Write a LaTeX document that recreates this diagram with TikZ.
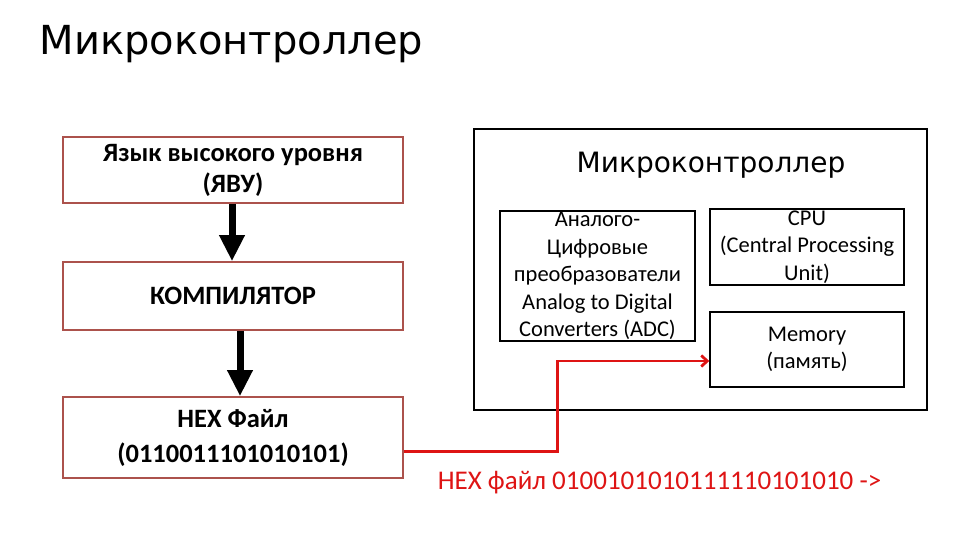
\documentclass[tikz,border=0pt]{standalone}
\usepackage{fontspec}
\setmainfont{Carlito}
\newfontfamily\titlefont{DejaVu Sans}
\usepackage{xcolor}
\usepackage{tikz}
\usetikzlibrary{arrows.meta, positioning}
\definecolor{boxred}{RGB}{172,82,76}
\definecolor{hexred}{RGB}{222,20,20}

\begin{document}
\begin{tikzpicture}[x=1pt, y=-1pt,
  flowbox/.style={rectangle, draw=boxred, line width=1.6pt, minimum width=340pt,
                  align=center, inner sep=0pt, font=\fontsize{26.5}{31}\selectfont\bfseries},
  partbox/.style={rectangle, draw=black, line width=1.4pt, minimum width=194pt,
                  align=center, inner sep=0pt, font=\fontsize{22.5}{27.5}\selectfont},
  flowarrow/.style={-{Triangle[length=26pt,width=24pt]}, line width=7pt},
  hexarrow/.style={-{Straight Barb[length=6pt,width=11pt]}, hexred, line width=2.8pt}
]
\useasboundingbox (0,0) rectangle (960,540);
\node[anchor=base west, font=\titlefont\fontsize{40}{44}\selectfont] (title) at (36,55) {Микроконтроллер};

\node[flowbox, minimum height=66pt] (lang) at (233,170) {Язык высокого уровня\\(ЯВУ)};
\node[flowbox, minimum height=68pt] (comp) at (233,296) {КОМПИЛЯТОР};
\node[flowbox, minimum height=81pt] (hex) at (233,437.5) {HEX Файл\\[4pt](0110011101010101)};
\draw[flowarrow] ([xshift=-1pt]lang.south) -- ([xshift=-1pt]comp.north);
\draw[flowarrow] ([xshift=7pt]comp.south) -- ([xshift=7pt]hex.north);

\node[rectangle, draw=black, line width=2pt, minimum width=453pt, minimum height=281pt] (mcu) at (700.5,269.5) {};
\node[font=\titlefont\fontsize{28}{32}\selectfont] (mcutitle) at (711,165) {Микроконтроллер};
\node[partbox, minimum width=195pt, minimum height=130pt] (adc) at (597.5,276)
  {Аналого-\\Цифровые\\преобразователи\\Analog to Digital\\Converters (ADC)};
\node[partbox, minimum height=76pt] (cpu) at (807,247) {CPU\\(Central Processing\\Unit)};
\node[partbox, minimum height=75pt] (mem) at (807,349.5) {Memory\\(память)};

\coordinate (hexout) at ([yshift=-14pt]hex.east);
\coordinate (memin) at ([yshift=-11.5pt]mem.west);
\draw[hexarrow] (hexout) -- ++(154,0) |- (memin);
\node[text=hexred, font=\fontsize{27}{30}\selectfont] (hexline) at (659.5,483) {HEX файл 0100101010111110101010 ->};
\end{tikzpicture}
\end{document}
